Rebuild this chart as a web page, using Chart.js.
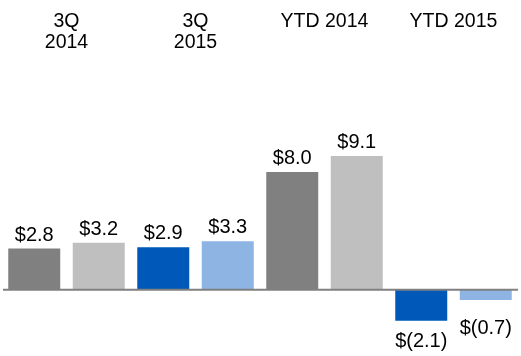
<!DOCTYPE html>
<html>
<head>
<meta charset="utf-8">
<script src="https://cdn.jsdelivr.net/npm/chart.js@4/dist/chart.umd.min.js"></script>
<style>
  html, body { margin: 0; padding: 0; background: #ffffff; }
  #wrap { position: relative; width: 521px; height: 356px; }
</style>
</head>
<body>
<div id="wrap"><canvas id="c"></canvas></div>
<script>
// ---- Data ----
const categories = ["3Q 2014 a", "3Q 2014 b", "3Q 2015 a", "3Q 2015 b", "YTD 2014 a", "YTD 2014 b", "YTD 2015 a", "YTD 2015 b"];
const values = [2.8, 3.2, 2.9, 3.3, 8.0, 9.1, -2.1, -0.7];
const groupLabels = [["3Q", "2014"], ["3Q", "2015"], ["YTD 2014"], ["YTD 2015"]];
const barColors = ["#808080", "#BFBFBF", "#0058B8", "#8DB4E2", "#808080", "#BFBFBF", "#0058B8", "#8DB4E2"];

const FONT = '"Liberation Sans", Arial, sans-serif';

function fmt(v) {
  const s = Math.abs(v).toFixed(1);
  return v < 0 ? "$(" + s + ")" : "$" + s;
}

const overlay = {
  id: "overlay",
  afterDatasetsDraw(chart) {
    const ctx = chart.ctx;
    const meta = chart.getDatasetMeta(0);
    const yScale = chart.scales.y;
    const zero = yScale.getPixelForValue(0);
    ctx.save();
    // zero axis line
    ctx.strokeStyle = "#808080";
    ctx.lineWidth = 2;
    ctx.beginPath();
    ctx.moveTo(3, zero);
    ctx.lineTo(518, zero);
    ctx.stroke();

    // value labels
    ctx.fillStyle = "#000000";
    ctx.font = "20px " + FONT;
    ctx.textAlign = "center";
    ctx.textBaseline = "alphabetic";
    meta.data.forEach((bar, i) => {
      const v = values[i];
      if (v >= 0) {
        ctx.fillText(fmt(v), bar.x, bar.y - 8);
      } else {
        const top = Math.max(bar.y + 11, zero + 29);
        ctx.fillText(fmt(v), bar.x, top + 15);
      }
    });

    // group header labels
    ctx.font = "19.5px " + FONT;
    groupLabels.forEach((lines, g) => {
      const a = meta.data[g * 2], b = meta.data[g * 2 + 1];
      const cx = (a.x + b.x) / 2;
      lines.forEach((t, k) => {
        ctx.fillText(t, cx, 27 + k * 20.5);
      });
    });
    ctx.restore();
  }
};

new Chart(document.getElementById("c"), {
  type: "bar",
  data: {
    labels: categories,
    datasets: [{
      data: values,
      backgroundColor: barColors,
      borderWidth: 0,
      barPercentage: 0.806,
      categoryPercentage: 1.0
    }]
  },
  options: {
    responsive: true,
    maintainAspectRatio: false,
    animation: false,
    layout: { padding: { left: 2, right: 3, top: 0, bottom: 0 } },
    plugins: { legend: { display: false }, tooltip: { enabled: false } },
    scales: {
      x: { display: false },
      y: { display: false, min: -4.5, max: 19.7 }
    }
  },
  plugins: [overlay]
});
</script>
</body>
</html>
